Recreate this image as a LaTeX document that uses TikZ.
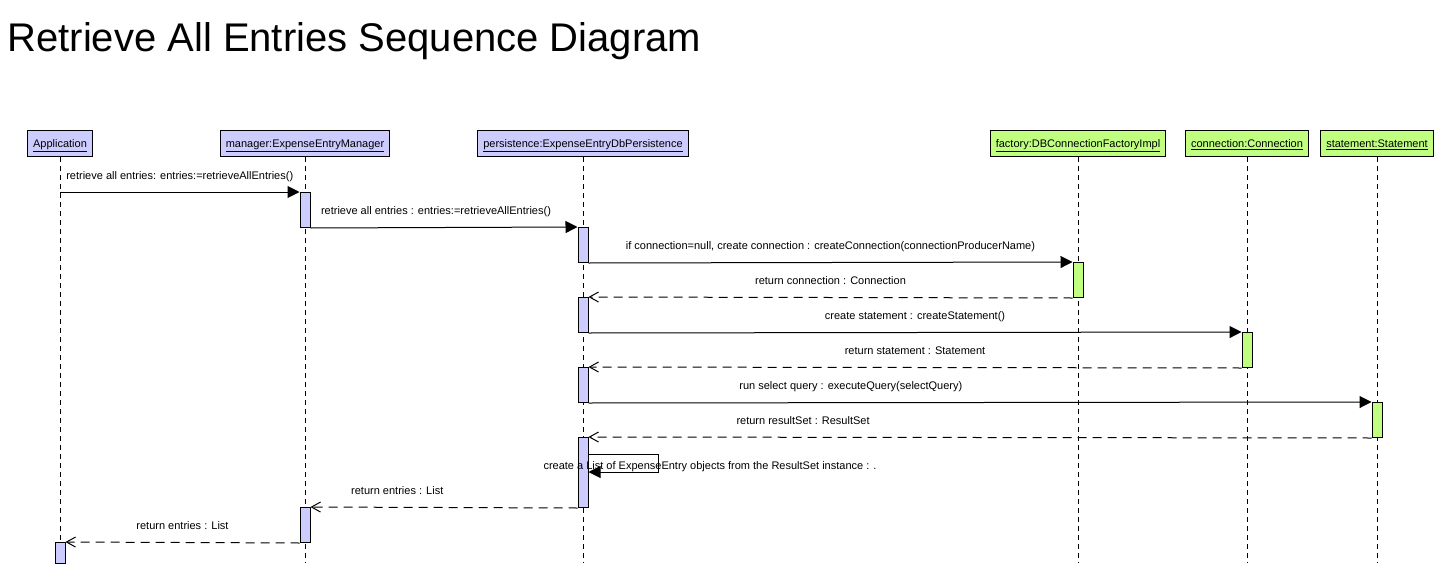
\documentclass[tikz,border=0pt]{standalone}
\usepackage{fontspec}
\setmainfont{Liberation Sans}
\usetikzlibrary{arrows.meta}
\definecolor{lav}{RGB}{204,204,255}
\definecolor{grn}{RGB}{192,255,128}

\begin{document}
\begin{tikzpicture}[x=1pt,y=-1pt,line width=1pt,every node/.style={font=\fontsize{11}{13}\selectfont},
  hd/.style={draw,fill=#1,anchor=north,minimum height=26pt,inner xsep=5.5pt,inner ysep=0pt,text height=10.5pt,text depth=2.5pt},
  ll/.style={dash pattern=on 5pt off 4pt},
  ac/.style={draw,fill=#1,anchor=north,minimum width=10pt,inner sep=0pt},
  cl/.style={-{Triangle[length=12pt,width=12pt]}},
  rt/.style={dash pattern=on 9pt off 6pt,-{Straight Barb[length=9pt,width=10pt]}},
  lb/.style={anchor=base,yshift=13pt,inner sep=0pt}]
\useasboundingbox (0,0) rectangle (1444,573);
\node[anchor=base west,inner sep=0pt,font=\fontsize{40}{48}\selectfont] (ttl) at (7,51) {Retrieve All Entries Sequence Diagram};
%------------- objects
\node[hd=lav] (app) at (60,130) {\underline{Application}};
\node[hd=lav] (mgr) at (305,130) {\underline{manager:ExpenseEntryManager}};
\node[hd=lav] (per) at (583,130) {\underline{persistence:ExpenseEntryDbPersistence}};
\node[hd=grn] (fac) at (1078,130) {\underline{factory:DBConnectionFactoryImpl}};
\node[hd=grn] (con) at (1247,130) {\underline{connection:Connection}};
\node[hd=grn] (stm) at (1377,130) {\underline{statement:Statement}};
\coordinate (bot) at (0,563);
\foreach \o in {app,mgr,per,fac,con,stm}
  \draw[ll] (\o.south) -- (\o.south |- bot);
%------------- activations
\node[ac=lav,minimum height=35pt] (m1) at (305,192) {};
\node[ac=lav,minimum height=35pt] (p1) at (583,227) {};
\node[ac=grn,minimum height=35pt] (f1) at (1078,262) {};
\node[ac=lav,minimum height=35pt] (p2) at (583,297) {};
\node[ac=grn,minimum height=35pt] (c1) at (1247,332) {};
\node[ac=lav,minimum height=35pt] (p3) at (583,367) {};
\node[ac=grn,minimum height=35pt] (s1) at (1377,402) {};
\node[ac=lav,minimum height=70pt] (p4) at (583,437) {};
\node[ac=lav,minimum height=35pt] (m2) at (305,507) {};
\node[ac=lav,minimum height=21pt] (a1) at (60,542) {};
%------------- messages
\draw[cl] (app.south |- m1.north) -- (m1.north west) node[lb,midway] {retrieve all entries: entries:=retrieveAllEntries()};
\draw[cl] (m1.south east) -- (p1.north west) node[lb,pos=0.47] {retrieve all entries : entries:=retrieveAllEntries()};
\draw[cl] (p1.south east) -- (f1.north west) node[lb,midway] {if connection=null, create connection : createConnection(connectionProducerName)};
\draw[rt] (f1.south west) -- (p2.north east) node[lb,midway] {return connection : Connection};
\draw[cl] (p2.south east) -- (c1.north west) node[lb,midway] {create statement : createStatement()};
\draw[rt] (c1.south west) -- (p3.north east) node[lb,midway] {return statement : Statement};
\draw[cl] (p3.south east) -- (s1.north west) node[lb,pos=0.335] {run select query : executeQuery(selectQuery)};
\draw[rt] (s1.south west) -- (p4.north east) node[lb,pos=0.726] {return resultSet : ResultSet};
% self call
\draw[cl] ([yshift=-17pt]p4.north east) -- ++(70,0) -- ++(0,18) -- ++(-70,0);
\node[anchor=base west,inner sep=0pt] (slf) at (543,469) {create a List of ExpenseEntry objects from the ResultSet instance : .};
\draw[rt] (p4.south west) -- (m2.north east) node[lb,pos=0.675] {return entries : List};
\draw[rt] (m2.south west) -- (a1.north east) node[lb,midway] {return entries : List};
\end{tikzpicture}
\end{document}
